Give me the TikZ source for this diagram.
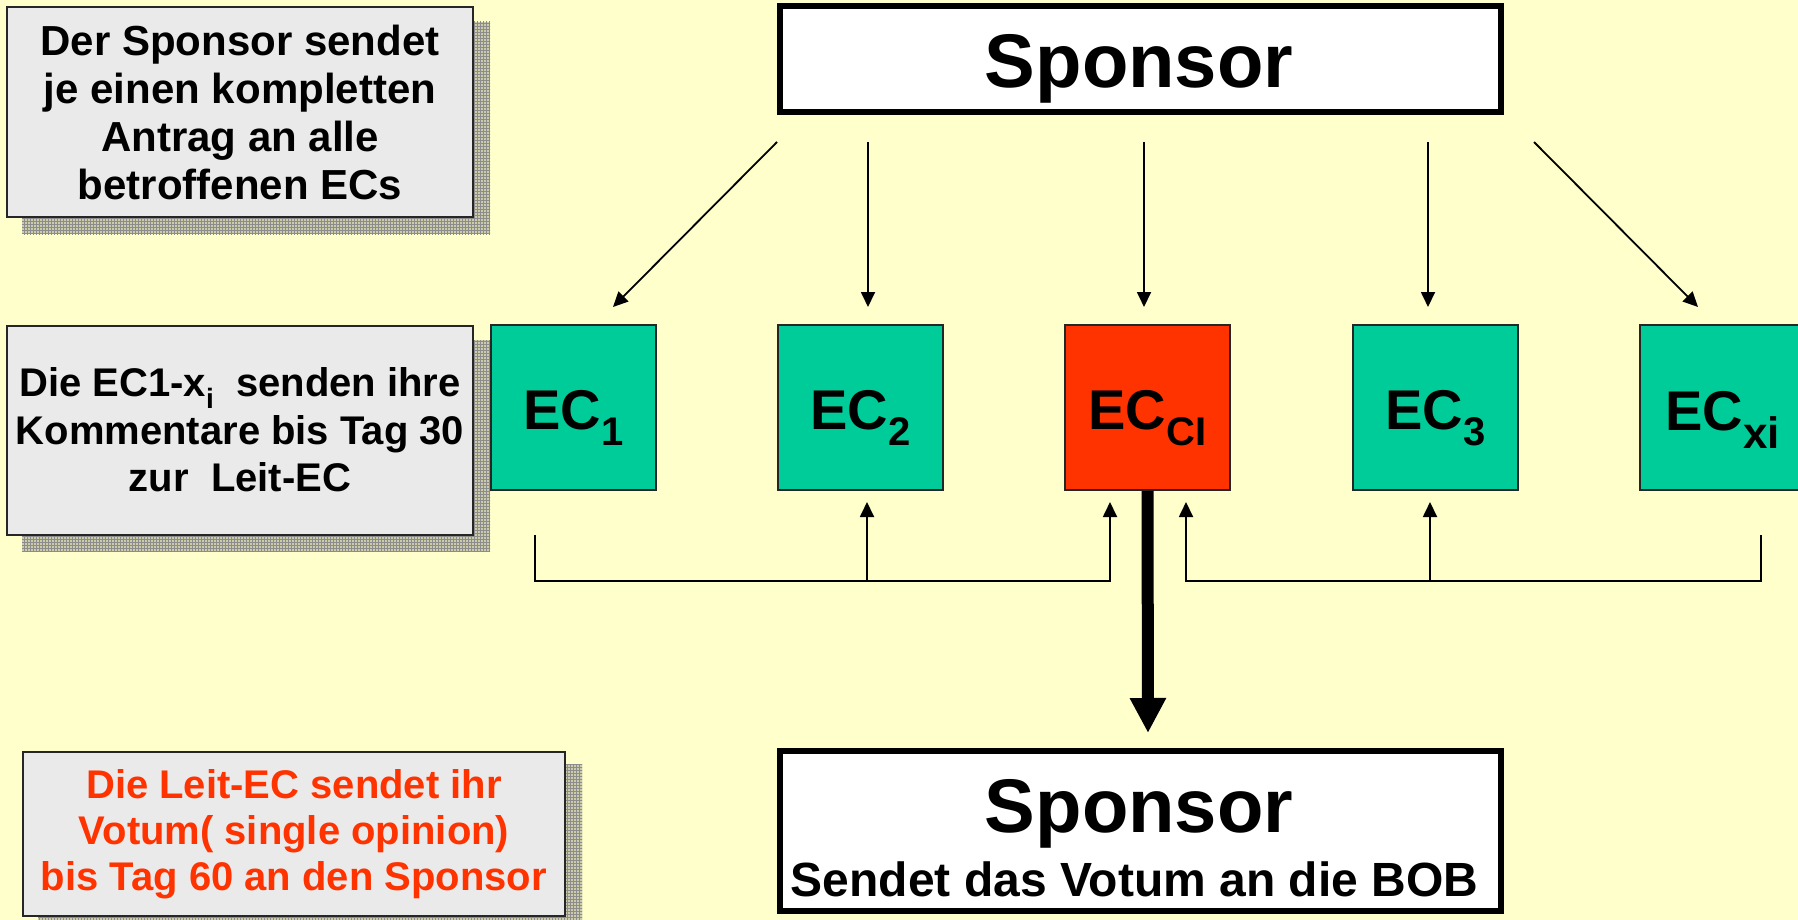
\documentclass[tikz,border=0pt]{standalone}
\usepackage{fontspec}
\setmainfont{Liberation Sans}
\usetikzlibrary{arrows.meta,patterns}
\definecolor{bgyellow}{RGB}{255,255,204}
\definecolor{boxgray}{RGB}{234,234,234}
\definecolor{shadowbase}{RGB}{204,204,170}
\definecolor{gridgray}{RGB}{140,140,140}
\definecolor{ecgreen}{RGB}{0,204,153}
\definecolor{ecred}{RGB}{255,51,0}
\newcommand{\ecsub}[2][16pt]{\raisebox{-#1}{\fontsize{40}{40}\selectfont #2}}
\begin{document}
\begin{tikzpicture}[x=1pt,y=-1pt,
  infobox/.style={draw=black!85, line width=2pt, fill=boxgray, inner sep=0pt, align=center,
    font=\bfseries\fontsize{42}{48}\selectfont},
  shadowfill/.style={fill=shadowbase},
  shadowgrid/.style={pattern=grid, pattern color=gridgray},
  ecbox/.style={draw=black!85, line width=2pt, minimum width=165pt, minimum height=165pt, inner sep=0pt},
  sponbox/.style={draw=black, line width=6pt, fill=white, minimum width=721pt, inner sep=0pt},
  ectext/.style={anchor=base, inner sep=0pt, font=\bfseries\fontsize{56}{60}\selectfont},
  spontext/.style={anchor=base, inner sep=0pt, font=\bfseries\fontsize{76}{80}\selectfont},
  thinarrow/.style={line width=1.8pt, -{Triangle[length=15pt,width=14pt]}},
  thinline/.style={line width=1.8pt},
  bigarrow/.style={line width=12pt, -{Triangle[length=35pt,width=34pt]}},
]
\useasboundingbox (0,0) rectangle (1798,920);
\clip (0,0) rectangle (1798,920);
\fill[bgyellow] (0,0) rectangle (1798,920);

% shadows
\fill[shadowfill] (22,22) rectangle (490,234);
\fill[shadowgrid] (22,22) rectangle (490,234);
\fill[shadowfill] (22,340) rectangle (490,551);
\fill[shadowgrid] (22,340) rectangle (490,551);
\fill[shadowfill] (38,764) rectangle (582,930);
\fill[shadowgrid] (38,764) rectangle (582,930);

% info boxes
\node[infobox, minimum width=466pt, minimum height=210pt] (box1) at (240,112)
  {Der Sponsor sendet\\ je einen kompletten\\Antrag an alle\\betroffenen ECs};
\node[infobox, minimum width=466pt, minimum height=209pt,
  font=\bfseries\fontsize{40}{47.5}\selectfont] (box2) at (240,430)
  {Die EC1-x\raisebox{-12pt}{\fontsize{28}{28}\selectfont i}\ \ senden ihre\\Kommentare bis Tag 30\\zur\ \ Leit-EC};
\node[infobox, minimum width=542pt, minimum height=164pt, text=ecred,
  font=\bfseries\fontsize{40}{46}\selectfont] (box3) at (294,834)
  {Die Leit-EC sendet ihr\\Votum( single opinion)\\bis Tag 60 an den Sponsor};

% Sponsor boxes
\node[sponbox, minimum height=106pt] (spon) at (1140.5,59) {};
\node[spontext] (spont) at (1139,88) {Sponsor};
\node[sponbox, minimum height=160pt] (spon2) at (1140.5,831) {};
\node[spontext] (spon2t) at (1139,832) {Sponsor};
\node[anchor=base, inner sep=0pt, font=\bfseries\fontsize{48}{52}\selectfont] (spon2s) at (1134.5,896)
  {Sendet das Votum an die BOB};

% EC boxes
\node[ecbox, fill=ecgreen] (ec1) at (573.5,407.5) {};
\node[ectext] (ec1t) at (573.5,429) {EC\ecsub{1}};
\node[ecbox, fill=ecgreen] (ec2) at (860.5,407.5) {};
\node[ectext] (ec2t) at (860.5,429) {EC\ecsub{2}};
\node[ecbox, fill=ecred] (ecc) at (1147.5,407.5) {};
\node[ectext] (ecct) at (1147.5,429) {EC\ecsub{CI}};
\node[ecbox, fill=ecgreen] (ec3) at (1435.5,407.5) {};
\node[ectext] (ec3t) at (1435.5,429) {EC\ecsub{3}};
\node[ecbox, fill=ecgreen] (ecx) at (1722.5,407.5) {};
\node[ectext] (ecxt) at (1722.5,430) {EC\ecsub[18pt]{\fontsize{44}{44}\selectfont xi}};

% arrows from sponsor
\coordinate (s1) at (777,142);  \coordinate (e1) at (613,307);
\coordinate (s2) at (868,142);  \coordinate (e2) at (868,307);
\coordinate (s3) at (1144,142); \coordinate (e3) at (1144,307);
\coordinate (s4) at (1428,142); \coordinate (e4) at (1428,307);
\coordinate (s5) at (1534,142); \coordinate (e5) at (1698,307);
\draw[thinarrow] (s1) -- (e1);
\draw[thinarrow] (s2) -- (e2);
\draw[thinarrow] (s3) -- (e3);
\draw[thinarrow] (s4) -- (e4);
\draw[thinarrow] (s5) -- (e5);

% feedback lines
\coordinate (fl) at (535,535);   \coordinate (flc) at (1110,581); \coordinate (flt) at (1110,502);
\coordinate (fr) at (1761,535);  \coordinate (frc) at (1186,581); \coordinate (frt) at (1186,502);
\coordinate (f2b) at (867,581);  \coordinate (f2t) at (867,502);
\coordinate (f3b) at (1430,581); \coordinate (f3t) at (1430,502);
\draw[thinarrow] (fl) |- (flc) -- (flt);
\draw[thinarrow] (fr) |- (frc) -- (frt);
\draw[thinarrow] (f2b) -- (f2t);
\draw[thinarrow] (f3b) -- (f3t);

% big arrow
\coordinate (bigtip) at (1148,733);
\draw[bigarrow] (ecc.south) -- (bigtip);
\end{tikzpicture}
\end{document}
